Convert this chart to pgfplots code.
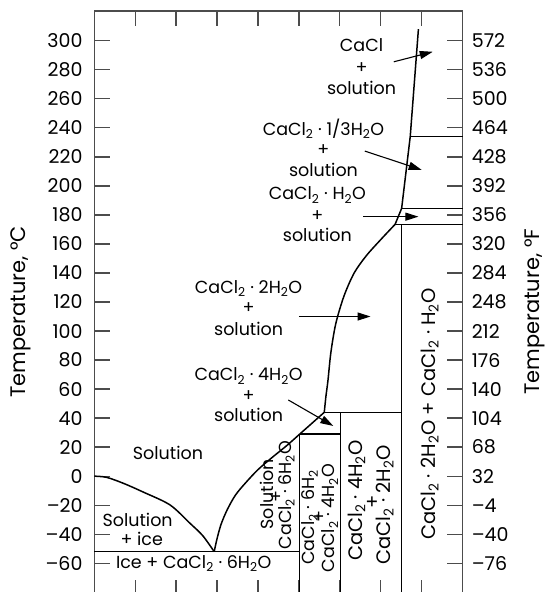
\documentclass[border=0pt]{standalone}
\usepackage{fontspec}
\setmainfont{Poppins}
\usepackage{pgfplots}
\pgfplotsset{compat=1.18}
\usetikzlibrary{arrows.meta}

\newcommand{\ca}{CaCl\textsubscript{2}}
\newcommand{\hh}{H\textsubscript{2}O}
\newcommand{\lab}{\fontsize{17.5}{17.5}\selectfont}
\newcommand{\labb}{\fontsize{19.5}{19.5}\selectfont}
\newcommand{\tk}{\fontsize{19}{19}\selectfont}
\newcommand{\axl}{\fontsize{21}{21}\selectfont}

\pgfplotsset{
  phase/.style={
    scale only axis, width=368.4pt, height=584.3pt,
    xmin=0, xmax=90, ymin=-82, ymax=320.5,
  },
  ln/.style={black, solid, line width=1.5pt, mark=none},
}
\tikzset{arr/.style={line width=1.1pt, -{Triangle[length=13pt,width=8pt]}}}

\begin{document}
\begin{tikzpicture}
\begin{axis}[
  phase,
  clip=false,
  axis line style={draw=black!70, line width=1.3pt},
  xtick style={draw=black!70, line width=1.3pt},
  ytick style={draw=black!70, line width=1.3pt},
  tick align=inside,
  major tick length=15.5pt,
  xtick={10,20,...,80}, xticklabel=\empty,
  ytick={-60,-40,...,300},
  yticklabels={–60,–40,–20,0,20,40,60,80,100,120,140,160,180,200,220,240,260,280,300},
  yticklabel style={font=\tk, inner sep=0pt, xshift=-11.6pt},
]
% ice liquidus
\addplot[ln, smooth] coordinates {(0,0) (3,-0.8) (7.1,-4.9) (12,-11) (18.5,-19.8) (23.4,-32.5) (26.5,-41) (29.3,-52)};
% hexahydrate and tetrahydrate liquidus
\addplot[ln, smooth] coordinates {(29.3,-52) (30,-43) (31,-33) (32.5,-23) (34.5,-13) (37,-4.5) (40,4.5) (43.5,13) (47,21) (50.2,29) (53.2,36.5) (56.2,44)};
% dihydrate liquidus
\addplot[ln, smooth] coordinates {(56.2,44) (56.6,55) (57.1,66) (57.8,85) (59,105) (61,124) (63.5,140) (66.5,152) (70,163) (73.5,173.5)};
% monohydrate and 1/3 hydrate
\addplot[ln] coordinates {(73.5,173.5) (75.1,184.5) (77.2,234) (79.2,308)};
% horizontals
\addplot[ln] coordinates {(0,-52) (50.2,-52)};
\addplot[ln] coordinates {(50.2,29) (60.1,29)};
\addplot[ln] coordinates {(56.2,44) (75.1,44)};
\addplot[ln] coordinates {(73.5,173.5) (90,173.5)};
\addplot[ln] coordinates {(75.1,184.5) (90,184.5)};
\addplot[ln] coordinates {(77.2,234) (90,234)};
% verticals
\addplot[ln] coordinates {(50.2,-82) (50.2,29)};
\addplot[ln] coordinates {(60.1,-82) (60.1,44)};
\addplot[ln] coordinates {(75.1,-82) (75.1,173.5)};

% labels
\node[font=\lab] at (axis cs:65.3,297) {CaCl};
\node[font=\lab] at (axis cs:65.3,281.3) {+};
\node[font=\lab] at (axis cs:65.3,267.4) {solution};
\draw[arr] (axis cs:73.2,285.5) -- (axis cs:82.7,292.4);

\node[font=\lab] at (axis cs:56,239.4) {\ca{} · 1/3\hh};
\node[font=\lab] at (axis cs:56,224.5) {+};
\node[font=\lab] at (axis cs:56,211.3) {solution};
\draw[arr] (axis cs:66.1,224) -- (axis cs:80,211);

\node[font=\lab] at (axis cs:54.5,193.7) {\ca{} · \hh};
\node[font=\lab] at (axis cs:54.5,179.4) {+};
\node[font=\lab] at (axis cs:54.5,166.3) {solution};
\draw[arr] (axis cs:65.7,178.8) -- (axis cs:79.2,178.8);

\node[font=\lab] at (axis cs:37.7,129.5) {\ca{} · 2\hh};
\node[font=\lab] at (axis cs:37.7,115.5) {+};
\node[font=\lab] at (axis cs:37.7,101.5) {solution};
\draw[arr] (axis cs:50,110) -- (axis cs:67.5,110);

\node[font=\lab] at (axis cs:37.7,69) {\ca{} · 4\hh};
\node[font=\lab] at (axis cs:37.7,55.5) {+};
\node[font=\lab] at (axis cs:37.7,42) {solution};
\draw[arr] (axis cs:47.4,52.5) -- (axis cs:58.4,34.6);

\node[font=\lab] at (axis cs:18,16) {Solution};
\node[font=\lab] at (axis cs:10.6,-30.4) {Solution};
\node[font=\lab] at (axis cs:11.6,-43.5) {+ ice};
\node[font=\lab] at (axis cs:24.3,-60) {Ice + \ca{} · 6\hh};

\node[font=\lab, rotate=90] at (axis cs:42.1,-12.5) {Solution};
\node[font=\lab, rotate=90] at (axis cs:44.6,-14) {+};
\node[font=\lab, rotate=90] at (axis cs:47,-13) {\ca{} · 6\hh};

\node[font=\lab, rotate=90] at (axis cs:52.7,-28.4) {\ca{} · 6H\textsubscript{2}};
\node[font=\lab, rotate=90] at (axis cs:55.1,-27.9) {+};
\node[font=\lab, rotate=90] at (axis cs:57.6,-28.8) {\ca{} · 4\hh};

\node[font=\labb, rotate=90] at (axis cs:64.1,-16.9) {\ca{} · 4\hh};
\node[font=\labb, rotate=90] at (axis cs:68.1,-18) {+};
\node[font=\labb, rotate=90] at (axis cs:71,-19.8) {\ca{} · 2\hh};

\node[font=\labb, rotate=90] at (axis cs:82,42.8) {\ca{} · 2\hh{} + \ca{} · \hh};

\node[font=\axl, rotate=90, inner sep=0pt] at ([xshift=-73.3pt]rel axis cs:0,0.485) {Temperature, °C};
\node[font=\axl, rotate=90, inner sep=0pt] at ([xshift=72pt]rel axis cs:1,0.485) {Temperature, °F};

\coordinate (bb1) at ([xshift=-94.3pt,yshift=11pt]rel axis cs:0,1);
\coordinate (bb2) at ([xshift=83.3pt]axis cs:90,-79.8);
\end{axis}
\begin{axis}[
  phase,
  hide x axis,
  axis y line*=right,
  y axis line style={draw=none},
  ytick style={draw=none},
  ytick={-60,-40,...,300},
  yticklabels={–76,–40,–4,32,68,104,140,176,212,248,284,320,356,392,428,464,500,536,572},
  yticklabel style={font=\tk, inner sep=0pt, xshift=9pt},
]
\end{axis}
\pgfresetboundingbox
\path[use as bounding box] (bb1) rectangle (bb2);
\end{tikzpicture}
\end{document}
